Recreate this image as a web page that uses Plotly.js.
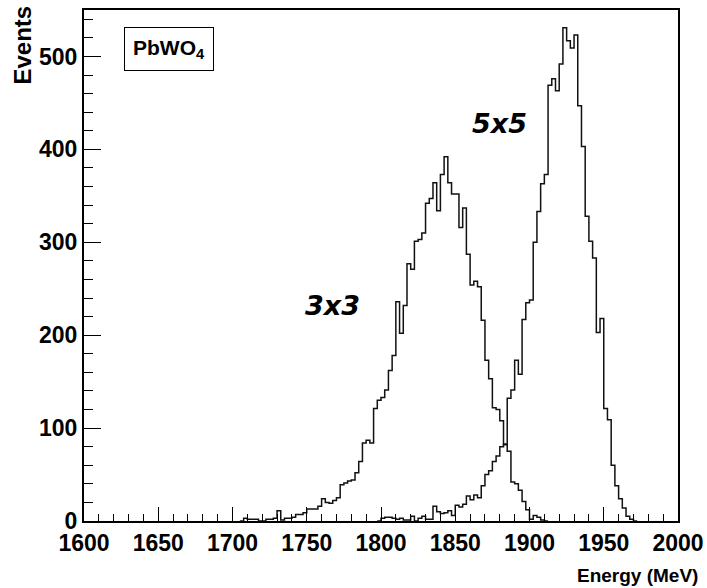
<!DOCTYPE html>
<html>
<head>
<meta charset="utf-8">
<script src="https://cdn.plot.ly/plotly-3.0.1.min.js"></script>
<style>html,body{margin:0;padding:0;background:#fff;}#chart{width:707px;height:588px;}</style>
</head>
<body>
<div id="chart"></div>
<script>
// Histogram binning (MeV)
const binWidth = 2.5;

// 3x3 matrix: counts per 2.5 MeV bin, first bin starts at start3x3
const start3x3 = 1705;
const counts3x3 = [0, 3, 2, 2, 2, 0, 0, 2, 2, 3,
  11, 1, 3, 3, 4, 7, 7, 9, 13, 13,
  13, 16, 24, 20, 19, 22, 25, 39, 41, 43,
  44, 52, 64, 84, 87, 84, 121, 130, 133, 141,
  162, 178, 236, 202, 232, 277, 271, 301, 303, 310,
  342, 347, 364, 334, 373, 392, 364, 352, 352, 316,
  337, 287, 254, 258, 252, 216, 173, 153, 122, 120,
  108, 82, 75, 42, 40, 33, 21, 12, 2, 6,
  4, 1, 0];

// 5x5 matrix: counts per 2.5 MeV bin, first bin starts at start5x5
const start5x5 = 1797.5;
const counts5x5 = [0, 3, 4, 4, 3, 2, 3, 1, 1, 5,
  0, 3, 5, 2, 2, 16, 10, 8, 9, 11,
  6, 17, 15, 18, 27, 23, 28, 25, 38, 50,
  54, 64, 70, 80, 83, 132, 141, 173, 158, 217,
  235, 238, 300, 333, 363, 373, 469, 476, 463, 492,
  531, 517, 509, 523, 447, 403, 328, 301, 283, 203,
  218, 121, 109, 60, 38, 24, 14, 5, 2, 0];

const xTickVals = [1600, 1650, 1700, 1750, 1800, 1850, 1900, 1950, 2000];
const yTickVals = [0, 100, 200, 300, 400, 500];

function stepTrace(start, counts, name) {
  const xs = [], ys = [];
  for (let i = 0; i < counts.length; i++) {
    xs.push(start + i * binWidth);
    ys.push(counts[i]);
  }
  xs.push(start + counts.length * binWidth);
  ys.push(counts[counts.length - 1]);
  return {
    x: xs, y: ys, type: 'scatter', mode: 'lines', name: name,
    line: {shape: 'hv', color: '#111', width: 1.5},
    hoverinfo: 'x+y'
  };
}

const tickFont = {family: 'Liberation Sans, Arial, sans-serif', size: 23, color: '#000', weight: 'bold'};
const labelFont = {family: 'DejaVu Sans, Verdana, sans-serif', size: 27, color: '#000', style: 'italic', weight: 'bold'};

const layout = {
  width: 707, height: 588,
  margin: {l: 84, r: 29, t: 10, b: 67, pad: 0},
  paper_bgcolor: '#fff', plot_bgcolor: '#fff',
  showlegend: false,
  xaxis: {
    range: [1600, 2000], tickvals: xTickVals, ticks: 'inside', ticklen: 14,
    tickwidth: 1, tickcolor: '#000', showline: true, linewidth: 2, linecolor: '#000',
    mirror: true, showgrid: false, zeroline: false, tickfont: tickFont,
    minor: {dtick: 10, ticks: 'inside', ticklen: 7, tickwidth: 1, tickcolor: '#000', showgrid: false}
  },
  yaxis: {
    range: [0, 550], tickvals: yTickVals, ticks: 'inside', ticklen: 17,
    tickwidth: 1, tickcolor: '#000', showline: true, linewidth: 2, linecolor: '#000',
    mirror: true, showgrid: false, zeroline: false, tickfont: tickFont,
    minor: {dtick: 20, ticks: 'inside', ticklen: 9, tickwidth: 1, tickcolor: '#000', showgrid: false}
  },
  annotations: [
    {text: 'Events', xref: 'paper', yref: 'paper', x: -0.1027, y: 1.0137,
     xanchor: 'center', yanchor: 'top', textangle: -90, showarrow: false,
     font: {family: 'Liberation Sans, Arial, sans-serif', size: 24, color: '#000', weight: 'bold'}},
    {text: 'Energy (MeV)', xref: 'paper', yref: 'paper', x: 1.037, y: -0.1057,
     xanchor: 'right', yanchor: 'middle', showarrow: false,
     font: {family: 'Liberation Sans, Arial, sans-serif', size: 19, color: '#000', weight: 'bold'}},
    {text: 'PbWO<sub>4</sub>', xref: 'paper', yref: 'paper', x: 0.1423, y: 0.9237,
     xanchor: 'center', yanchor: 'middle', showarrow: false,
     bordercolor: '#000', borderwidth: 1, borderpad: 8, bgcolor: '#fff',
     font: {family: 'Liberation Sans, Arial, sans-serif', size: 21, color: '#000', weight: 'bold'}},
    {text: '3x3', xref: 'x', yref: 'y', x: 1767, y: 232, showarrow: false,
     xanchor: 'center', yanchor: 'middle', font: labelFont},
    {text: '5x5', xref: 'x', yref: 'y', x: 1880, y: 428, showarrow: false,
     xanchor: 'center', yanchor: 'middle', font: labelFont}
  ]
};

Plotly.newPlot('chart', [stepTrace(start3x3, counts3x3, '3x3'), stepTrace(start5x5, counts5x5, '5x5')], layout, {displayModeBar: false, staticPlot: true});
</script>
</body>
</html>
